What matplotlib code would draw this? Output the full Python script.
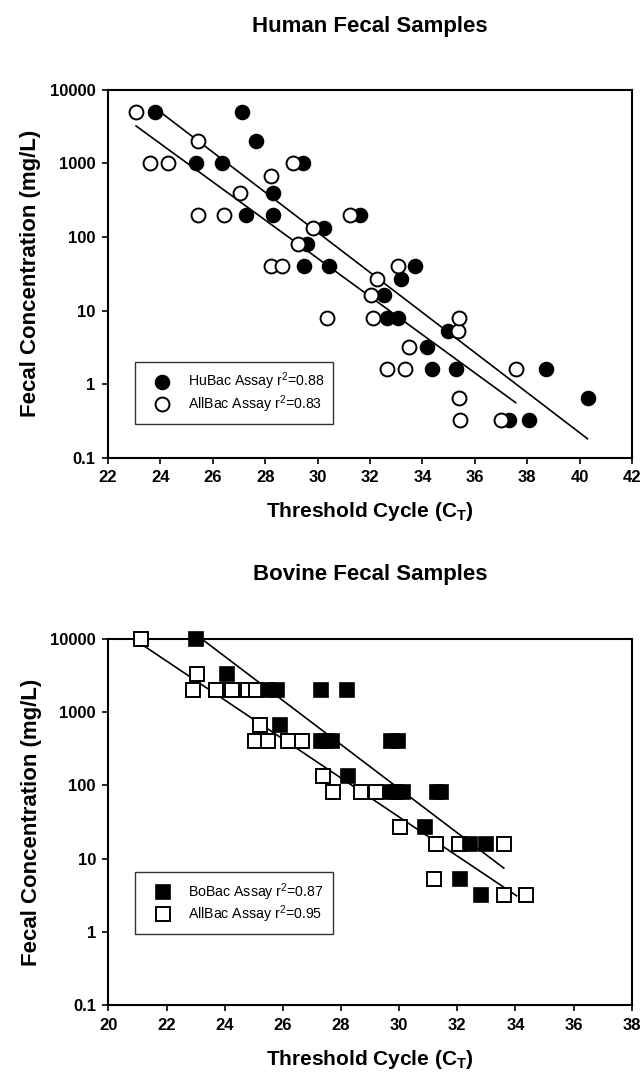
import numpy as np
import matplotlib
matplotlib.use('Agg')
import matplotlib.pyplot as plt
from matplotlib.ticker import FixedLocator, FixedFormatter, NullLocator

plt.rcParams['font.family'] = ['Liberation Sans', 'DejaVu Sans']
plt.rcParams['mathtext.fontset'] = 'custom'
plt.rcParams['mathtext.rm'] = 'Liberation Sans'
plt.rcParams['mathtext.bf'] = 'Liberation Sans:bold'

# Human fecal samples - HuBac assay (filled circles)
hu_ct = [23.8, 25.35, 26.34, 27.1, 27.25, 27.65, 28.31, 28.31, 29.46, 29.48, 29.58, 30.26, 30.45,
         31.62, 32.55, 32.65, 33.08, 33.2, 33.72, 34.19, 34.38, 34.99, 35.27, 37.32, 38.08, 38.7, 40.33]
hu_conc = [5000, 1000, 1000, 5000, 200, 2000, 400, 200, 1000, 40, 80, 133, 40,
           200, 16, 8, 8, 27, 40, 3.2, 1.6, 5.3, 1.6, 0.32, 0.32, 1.6, 0.64]

# Human fecal samples - AllBac assay (open circles)
allh_ct = [23.06, 23.6, 24.3, 25.42, 25.42, 26.43, 27.04, 28.21, 28.22, 28.63, 29.05, 29.26, 29.84, 30.35,
           31.24, 32.03, 32.1, 32.25, 32.63, 33.06, 33.34, 33.5, 35.35, 35.4, 35.41, 35.44, 37.0, 37.56]
allh_conc = [5000, 1000, 1000, 2000, 200, 200, 400, 40, 667, 40, 1000, 80, 133, 8,
             200, 16, 8, 27, 1.6, 40, 1.6, 3.2, 5.3, 8, 0.64, 0.32, 0.32, 1.6]

# Bovine fecal samples - BoBac assay (filled squares)
bo_ct = [23.01, 24.07, 25.5, 25.79, 25.9, 27.3, 27.3, 27.5, 27.7, 28.19, 28.25, 29.68, 29.72, 29.91,
         29.97, 30.12, 30.89, 31.3, 31.45, 32.09, 32.45, 32.81, 33.0]
bo_conc = [10000, 3333, 2000, 2000, 667, 2000, 400, 400, 400, 2000, 133, 80, 400, 80,
           400, 80, 27, 80, 80, 5.3, 16, 3.2, 16]

# Bovine fecal samples - AllBac assay (open squares)
allb_ct = [21.11, 22.92, 23.03, 23.7, 24.24, 24.81, 25.04, 25.06, 25.21, 25.5, 26.16, 26.67, 27.39,
           27.71, 28.68, 29.2, 30.03, 31.2, 31.27, 32.06, 33.6, 33.6, 34.36]
allb_conc = [10000, 2000, 3333, 2000, 2000, 2000, 400, 2000, 667, 400, 400, 400, 133,
             80, 80, 80, 27, 5.3, 16, 16, 16, 3.2, 3.2]

# regression lines (end points)
hu_fit_ct, hu_fit_conc = [24.0, 40.3], [5000, 0.18]
allh_fit_ct, allh_fit_conc = [23.07, 37.56], [3240, 0.557]
bo_fit_ct, bo_fit_conc = [23.2, 33.6], [10000, 7.4]
allb_fit_ct, allb_fit_conc = [21.23, 34.04], [7950, 3.1]

yticks = [0.1, 1, 10, 100, 1000, 10000]
ylabels = ['0.1', '1', '10', '100', '1000', '10000']

fig = plt.figure(figsize=(6.43, 10.75), dpi=100)
ax1 = fig.add_axes([0.168, 0.5744, 0.815, 0.3419])
ax2 = fig.add_axes([0.1687, 0.0651, 0.8137, 0.3407])


def style_axes(ax, xmin, xmax, title):
    ax.set_yscale('log')
    ax.set_ylim(0.1, 10000)
    ax.set_xlim(xmin, xmax)
    ax.set_xticks(np.arange(xmin, xmax + 1, 2))
    ax.yaxis.set_major_locator(FixedLocator(yticks))
    ax.yaxis.set_major_formatter(FixedFormatter(ylabels))
    ax.yaxis.set_minor_locator(NullLocator())
    ax.xaxis.set_minor_locator(NullLocator())
    ax.tick_params(direction='out', length=4, width=1.2, labelsize=12, pad=5)
    for lab in ax.get_xticklabels() + ax.get_yticklabels():
        lab.set_fontweight('bold')
    for sp in ax.spines.values():
        sp.set_linewidth(1.5)
    ax.set_title(title, fontsize=16, fontweight='bold', pad=42)
    ax.set_xlabel(r'Threshold Cycle (C$_{\mathbf{T}}$)', fontsize=15, fontweight='bold', labelpad=11)
    ax.set_ylabel('Fecal Concentration (mg/L)', fontsize=16, fontweight='bold', labelpad=6)


leg_kw = dict(loc='upper left', fancybox=False, frameon=True, edgecolor='black', fontsize=10.2,
              handlelength=2.6, handletextpad=0.5, borderpad=0.63, labelspacing=0.08,
              borderaxespad=0)

# top panel
ax1.plot(hu_fit_ct, hu_fit_conc, color='black', linewidth=1.2, zorder=2)
ax1.plot(allh_fit_ct, allh_fit_conc, color='black', linewidth=1.2, zorder=2)
ax1.plot(hu_ct, hu_conc, 'o', color='black', markersize=10, markeredgewidth=1.2,
         linestyle='none', label='HuBac Assay r$^2$=0.88', zorder=3, clip_on=False)
ax1.plot(allh_ct, allh_conc, 'o', markerfacecolor='white', markeredgecolor='black', markersize=10,
         markeredgewidth=1.4, linestyle='none', label='AllBac Assay r$^2$=0.83', zorder=4, clip_on=False)
style_axes(ax1, 22, 42, 'Human Fecal Samples')
leg1 = ax1.legend(bbox_to_anchor=(0.0515, 0.26), **leg_kw)
leg1.get_frame().set_linewidth(1.0)

# bottom panel
ax2.plot(bo_fit_ct, bo_fit_conc, color='black', linewidth=1.2, zorder=2)
ax2.plot(allb_fit_ct, allb_fit_conc, color='black', linewidth=1.2, zorder=2)
ax2.plot(allb_ct, allb_conc, 's', markerfacecolor='white', markeredgecolor='black', markersize=9.5,
         markeredgewidth=1.4, linestyle='none', label='AllBac Assay r$^2$=0.95', zorder=3, clip_on=False)
ax2.plot(bo_ct, bo_conc, 's', color='black', markersize=9.5, markeredgewidth=1.2,
         linestyle='none', label='BoBac Assay r$^2$=0.87', zorder=4, clip_on=False)
style_axes(ax2, 20, 38, 'Bovine Fecal Samples')
h, l = ax2.get_legend_handles_labels()
leg2 = ax2.legend([h[1], h[0]], [l[1], l[0]], bbox_to_anchor=(0.0515, 0.363), **leg_kw)
leg2.get_frame().set_linewidth(1.0)

fig.savefig('out.png', dpi=100)
